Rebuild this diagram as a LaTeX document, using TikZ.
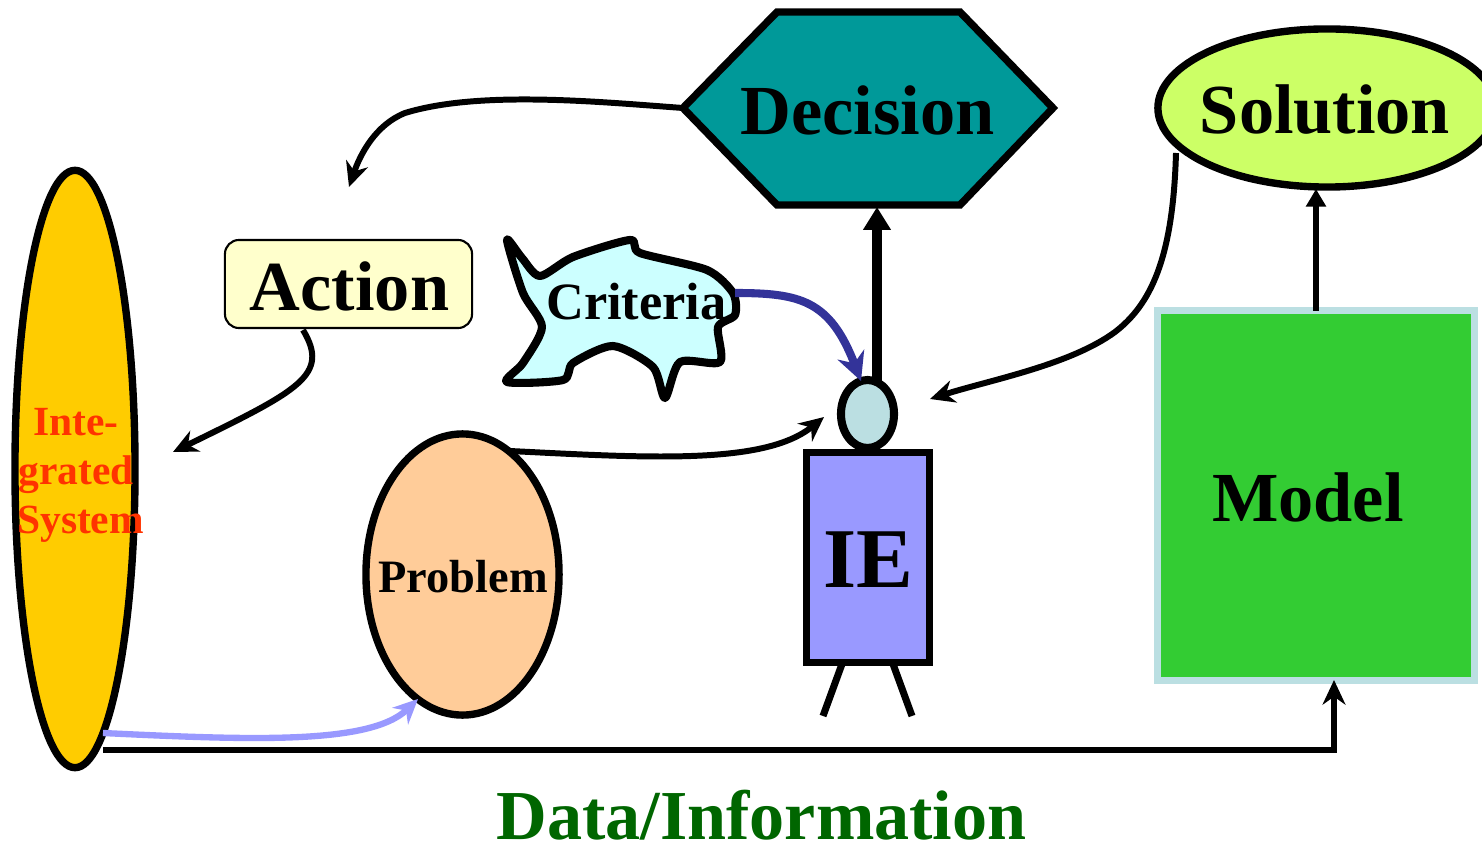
\documentclass[tikz,border=0pt]{standalone}
\usepackage{fontspec}
\setmainfont{Liberation Serif}
\usetikzlibrary{arrows.meta}
\usetikzlibrary{shapes.geometric}
\usetikzlibrary{calc}

\definecolor{sysfill}{HTML}{FFCC00}
\definecolor{probfill}{HTML}{FFCC99}
\definecolor{actfill}{HTML}{FFFFCC}
\definecolor{critfill}{HTML}{CCFFFF}
\definecolor{decfill}{HTML}{009999}
\definecolor{solfill}{HTML}{CCFF66}
\definecolor{modfill}{HTML}{33CC33}
\definecolor{modline}{HTML}{BBDFE2}
\definecolor{iefill}{HTML}{9999FF}
\definecolor{critarrow}{HTML}{333399}
\definecolor{systext}{HTML}{FF3300}
\definecolor{datatext}{HTML}{006600}

\tikzset{
  bigtext/.style={font=\fontsize{20}{22}\selectfont\bfseries, inner sep=0pt},
  blob/.style={draw, ellipse, line width=2.1pt, inner sep=0pt, outer sep=0pt},
  flow/.style={line width=1.7pt, -{Stealth[length=7pt,width=6.5pt]}},
  stem/.style={line width=2.6pt, -{Triangle[length=6.5pt,width=7.5pt]}},
}

\begin{document}
\begin{tikzpicture}[x=0.01cm,y=-0.01cm]
\clip (0,0) rectangle (1482,843);

% left side
\node[blob,fill=sysfill,minimum width=1.2cm,minimum height=5.97cm] (system) at (75,469) {};
\node[font=\fontsize{11.8}{14}\selectfont\bfseries,text=systext,align=center,inner sep=0pt] (systemtext) at (76,475.5) {Inte-\\grated\\\hspace*{2.6pt}System};
\node[blob,fill=probfill,minimum width=1.93cm,minimum height=2.81cm] (problem) at (462.5,574.5) {};
\node[font=\fontsize{13.2}{15}\selectfont\bfseries,inner sep=0pt] (problemtext) at (463,577) {Problem};
\node[draw,fill=actfill,rounded corners=4pt,line width=0.6pt,minimum width=2.47cm,minimum height=0.88cm,outer sep=0pt] (action) at (348.5,284) {};
\node[bigtext] (actiontext) at (349.5,286) {Action};

% criteria
\draw[fill=critfill,line width=2.3pt,line join=round] plot[smooth cycle,tension=0.45] coordinates {
(507,240) (522,258) (540,276) (573,257) (630,240) (640,253) (707,270) (733,293)
(735,315) (718,327) (720,362) (680,362) (665,398) (653,367) (613,346) (573,363)
(563,380) (507,382) (523,363) (542,327) (523,293)};
\node[font=\fontsize{14.9}{16}\selectfont\bfseries,inner sep=0pt] (criteria) at (636.5,302) {Criteria};
\coordinate (critE) at (735,293);

% decision
\draw[fill=decfill,line width=2.1pt,line join=miter] (683,108) coordinate (decW) -- (777,12) -- (960,12)
  -- (1053,108) -- (960,205) -- (777,205) -- cycle;
\node[bigtext] (decision) at (867.5,110) {Decision};
\coordinate (decS) at (877,207);

% solution and model
\node[blob,fill=solfill,minimum width=3.38cm,minimum height=1.58cm] (solution) at (1327,108) {};
\node[bigtext] (solutiontext) at (1325,110) {Solution};
\node[draw=modline,fill=modfill,line width=2pt,minimum width=3.17cm,minimum height=3.70cm,outer sep=0pt] (model) at (1316,495.5) {};
\node[bigtext] (modeltext) at (1308,497) {Model};

% person
\coordinate (legA) at (823,716);
\coordinate (legB) at (912,716);
\draw[line width=2pt] (842,664) -- (legA);
\draw[line width=2pt] (893,664) -- (legB);
\node[draw,fill=iefill,line width=1.9pt,minimum width=1.23cm,minimum height=2.10cm,outer sep=0pt] (body) at (868,557.5) {};
\node[font=\fontsize{24.2}{26}\selectfont\bfseries,inner sep=0pt] (ietext) at (868,559.5) {IE};
\coordinate (headtop) at (877,384);
\draw[stem] (headtop) -- (decS);
\node[blob,fill=modline,line width=2.3pt,minimum width=0.53cm,minimum height=0.68cm] (head) at (867.5,414) {};

% arrows
\coordinate (actEnd) at (349,187);
\coordinate (sysEnd) at (173,452);
\coordinate (probEnd) at (824,417);
\coordinate (solEnd) at (930,399);
\coordinate (headEnd) at (861,381);
\coordinate (sysA) at (103,733);
\coordinate (sysB) at (103,750);
\coordinate (probIn) at (418,699);
\coordinate (solS) at (1176,153);
\coordinate (actS) at (303,330);
\coordinate (probN) at (510,451);
\coordinate (modS) at (1334,680);
\coordinate (modN) at (1316,311);
\coordinate (solB) at (1316,189);
\draw[flow] (decW) .. controls (600,102) and (480,90) .. (405,113) .. controls (375,125) and (360,155) .. (actEnd);
\draw[flow] (actS) .. controls (330,375) and (300,390) .. (sysEnd);
\draw[flow] (probN) .. controls (650,458) and (765,465) .. (probEnd);
\draw[flow] (solS) .. controls (1173,260) and (1150,305) .. (1115,332) .. controls (1070,365) and (990,380) .. (solEnd);
\draw[line width=2.3pt,critarrow,-{Stealth[length=8pt,width=8pt]}] (critE) .. controls (800,293) and (830,300) .. (headEnd);
\draw[line width=1.8pt,iefill,-{Stealth[length=7pt,width=6.5pt]}] (sysA) .. controls (250,740) and (370,745) .. (probIn);
\draw[flow] (sysB) -- (1334,750) -- (modS);
\draw[line width=1.8pt,-{Triangle[length=5pt,width=5.5pt]}] (modN) -- (solB);

\node[font=\fontsize{19.95}{22}\selectfont\bfseries,text=datatext,inner sep=0pt] (datalabel) at (761.5,815) {Data/Information};
\end{tikzpicture}
\end{document}
